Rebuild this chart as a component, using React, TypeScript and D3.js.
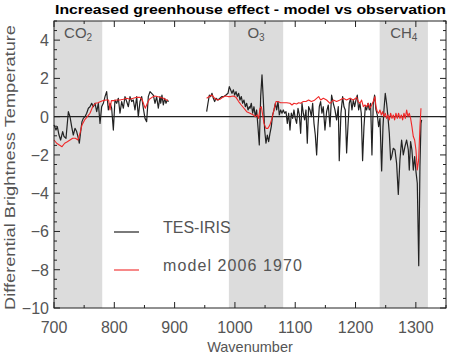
import React from "react";
import * as d3 from "d3";

// TES-IRIS observed difference (wavenumber, K), two segments
const obsW1 = [700,703.3,705.5,708.3,711,714.4,716.6,719.9,723.8,726.5,729.3,732,734.8,737.6,740.4,742,744.2,746.4,748.6,751.4,754.2,757,759.7,762.5,765.2,768,770.8,773.5,776.3,779,781.8,784.6,787.3,790.1,792.9,795.6,798.4,801.1,803.9,806.7,809.4,812.2,815,817.7,820.5,823.3,826,828.8,831.5,834.3,837.1,839.8,842.6,845.4,848.1,850.9,853.6,856.4,859.2,861.9,864.7,867.5,870.2,873,875.7,877,879,881.3,883.5,885.7,887.9,890];
const obsV1 = [-0.43,-0.7,-0.52,-0.96,-1.22,-0.78,-1.04,-1.13,0.26,0.0,-0.52,-0.96,-0.61,-0.78,-1.13,-1.39,-0.78,-0.26,-0.09,0.0,0.18,0.44,0.52,0.7,0.52,0.7,0.26,0.7,-0.35,0.52,0.7,1.05,1.31,0.35,0.7,0.44,-0.7,0.87,0.7,0.96,0.18,0.79,0.44,1.05,0.79,0.52,1.05,0.79,0.87,0.35,1.05,0.0,0.79,1.05,0.44,-0.09,-0.26,1.05,1.31,1.22,1.13,0.7,1.05,0.44,1.05,0.7,1.13,0.61,0.96,0.7,0.87,0.79];
const obsW2 = [953.1,955.3,957.6,959.8,962,964.2,966.4,968.6,971.9,975.2,978.6,981.9,985.2,988.5,990.7,992.9,995.1,997.4,999.6,1001.8,1004,1006.2,1008.4,1010.6,1012.8,1015,1017.3,1019.5,1021.7,1023.9,1025,1027.2,1029.4,1031.6,1033.8,1036,1038.2,1040.4,1042.7,1044.9,1047.1,1049.3,1051.5,1053.7,1055.9,1058.1,1060.3,1062.5,1064.8,1067,1069.2,1071.4,1073.6,1075.8,1078,1080.2,1082.4,1084.7,1086.9,1089.1,1091.3,1093.5,1095.7,1097.9,1100.1,1102.3,1104.6,1106.8,1109,1111.2,1113.4,1115.6,1117.8,1120,1122.2,1124.5,1126.7,1128.9,1131.1,1133.3,1135.5,1137.7,1139.9,1142.1,1144.3,1146.5,1149.3,1152,1154.8,1157.6,1160.3,1163.1,1165.9,1168.6,1171.4,1173,1175.8,1178.6,1180.8,1183,1185.2,1187.4,1189.6,1191.8,1194.1,1196.3,1198.5,1200.7,1202.9,1205.1,1207.3,1209.5,1211.7,1214,1216.2,1218.4,1220.6,1222.8,1225,1227.2,1229.4,1231.6,1233.9,1236.1,1238.3,1240.5,1243.3,1245.5,1247.1,1249.3,1251.5,1253.7,1256,1258.2,1259.9,1262.6,1265.4,1268.1,1270.9,1273.6,1276.4,1279.2,1281.9,1284.7,1287.5,1289.1,1291.3,1293.5,1295.8,1298,1300.2,1302.4,1304.8,1306.8,1308.5,1309.6];
const obsV2 = [0.26,0.7,1.13,1.05,1.22,0.96,0.79,0.96,0.87,0.96,1.05,1.05,1.13,1.22,1.57,1.4,1.22,1.4,1.13,1.31,1.05,1.22,0.87,1.05,0.7,0.87,0.52,0.7,0.35,0.52,0.44,0.7,0.18,0.52,0.0,0.35,-0.52,-1.48,1.05,2.18,0.87,-0.7,-1.39,-0.96,-1.31,-0.87,-0.52,0.09,0.35,0.7,0.35,0.79,0.09,0.35,0.18,0.35,0.18,0.26,-0.35,0.18,-0.7,0.18,-0.09,0.35,-0.09,-0.35,0.44,0.09,-0.87,0.7,0.18,-0.17,0.35,-1.39,0.52,0.35,0.0,0.7,-0.35,-0.96,-2.0,-0.52,0.52,0.79,0.18,0.52,-0.7,0.26,0.61,-0.52,1.13,0.7,0.35,-0.17,0.52,-2.3,0.18,1.05,0.52,0.35,-1.9,-0.52,0.7,0.96,0.35,0.87,0.52,0.87,1.13,0.35,0.7,0.18,-2.3,-0.52,0.52,0.35,0.7,0.35,0.7,-2.0,0.7,1.13,0.35,0.09,-0.52,-0.09,-2.84,-0.52,0.35,1.22,0.7,0.0,-0.87,-2.26,-2.09,-1.65,-1.74,-2.44,-4.06,-2.26,-1.22,-2.0,-1.57,-1.22,-1.74,-2.79,-1.3,-1.74,-2.79,-2.09,-2.87,-3.48,-7.79,-2.61,-0.35,-0.17];

// model 2006 - 1970, two segments
const modW1 = [700,704.4,708.8,713.3,717.7,722.1,726.5,731,735.4,739.8,743.1,746.4,750.8,755.3,759.7,764.1,768.5,773,777.4,781.8,786.2,790.6,792.9,795.1,799.5,803.9,809.4,815,820.5,826,831.5,837.1,842.6,845.9,849.2,851.4,854.8,858.1,862.5,866.9,871.3,875.7,881.3,886.8,889];
const modV1 = [-1.22,-1.39,-1.48,-1.57,-1.39,-1.31,-1.22,-1.13,-1.13,-1.22,-0.87,-0.43,-0.17,0.0,0.18,0.52,0.7,0.73,0.79,0.84,0.87,0.87,0.35,0.84,0.84,0.87,0.87,0.91,0.96,0.91,0.96,1.01,1.01,0.91,0.61,0.44,0.7,0.91,1.01,1.08,1.05,1.01,0.96,0.87,0.84];
const modW2 = [953.1,957.6,962,966.4,970.8,975.2,979.7,984.1,988.5,992.9,997.4,1001.8,1006.2,1010.6,1015,1019.5,1025,1030.5,1033.8,1037.1,1039.3,1041.5,1043.8,1046,1048.2,1051.5,1054.8,1058.1,1061.4,1064.8,1068.1,1071.4,1075.8,1080.2,1085.8,1091.3,1094.6,1097.9,1102.3,1105.7,1109,1113.4,1117.8,1122.2,1126.7,1131.1,1135.5,1138.8,1142.1,1146.6,1152,1157.6,1163.1,1168.6,1174.2,1179.7,1185.2,1190.7,1196.3,1201.8,1204.6,1207.3,1210.1,1212.9,1215.6,1218.4,1221.1,1223.9,1226.7,1229.4,1232.2,1233.9,1236.1,1238.3,1240.5,1242.7,1244.9,1247.1,1249.3,1251.5,1253.7,1256,1258.2,1260.4,1262.6,1264.8,1267,1269.2,1271.4,1273.6,1275.9,1278.1,1280.3,1282.5,1284.7,1286.9,1289.1,1291.3,1293.5,1295.8,1298,1300.2,1302.4,1304.6,1306.8,1308.5];
const modV2 = [0.96,1.05,1.13,0.96,0.87,0.91,1.01,1.08,1.05,1.05,1.08,1.01,0.79,0.61,0.44,0.26,0.18,0.09,0.0,0.09,-0.09,0.44,0.52,0.09,-0.35,-0.61,-0.61,-0.43,-0.09,0.35,0.79,0.79,0.73,0.73,0.73,0.7,0.61,0.7,0.66,0.73,0.7,0.79,0.79,0.87,0.79,0.84,0.96,1.05,0.87,0.96,0.87,0.7,0.87,0.79,0.87,0.96,0.87,0.96,0.87,1.01,0.79,0.7,0.87,0.52,0.61,0.52,0.7,0.44,0.61,0.79,1.05,0.52,0.26,0.18,0.35,0.09,0.26,0.0,0.18,-0.09,0.09,-0.17,0.18,-0.09,0.09,-0.17,0.18,-0.09,0.18,-0.09,0.09,-0.17,0.18,-0.09,0.35,0.0,0.18,-0.09,-0.52,-1.04,-1.22,-1.74,-2.79,-2.26,-0.52,0.44];

const bands = [
  { from: 700, to: 780, label: "CO", sub: "2" },
  { from: 990, to: 1080, label: "O", sub: "3" },
  { from: 1240, to: 1320, label: "CH", sub: "4" },
];
const xTicks = [700, 800, 900, 1000, 1100, 1200, 1300];
const yTicks = [4, 2, 0, -2, -4, -6, -8, -10];

const W = 450, H = 355;
const L = 54, R = 446, T = 21, B = 308;

export default function App() {
  const x = d3.scaleLinear().domain([700, 1350]).range([L, R]);
  const y = d3.scaleLinear().domain([-10, 5]).range([B, T]);
  const line = d3.line<[number, number]>().x(d => x(d[0])).y(d => y(d[1]));
  const zip = (a: number[], b: number[]) => a.map((w, i) => [w, b[i]] as [number, number]);
  const font = "'Liberation Sans', Arial, sans-serif";
  const grey = "#555";
  const blk = "#222";
  const red = "#f02828";

  const xMinor = d3.range(700, 1351, 50);
  const yMinor = d3.range(-10, 5.01, 0.5);

  return (
    <svg width={W} height={H} style={{ position: "absolute", left: 0, top: 0 }} fontFamily={font}>
      <rect x={0} y={0} width={W} height={H} fill="#fff" />
      <text x={L + 1} y={14} fontSize={13} fontWeight="bold" fill="#000" textLength={391} lengthAdjust="spacingAndGlyphs">Increased greenhouse effect - model vs observation</text>
      {bands.map(b => (
        <rect key={b.label} x={x(b.from)} y={T} width={x(b.to) - x(b.from)} height={B - T} fill="#dcdcdc" />
      ))}
      {bands.map(b => (
        <text key={"t" + b.label} x={(x(b.from) + x(b.to)) / 2} y={38} fontSize={15} fill={grey} textAnchor="middle">
          {b.label}<tspan fontSize={10} dy={3}>{b.sub}</tspan>
        </text>
      ))}
      <line x1={L} x2={R} y1={y(0)} y2={y(0)} stroke="#222" strokeWidth={1.3} />
      <path d={line(zip(obsW1, obsV1)) || ""} fill="none" stroke={blk} strokeWidth={1.2} strokeLinejoin="round" />
      <path d={line(zip(obsW2, obsV2)) || ""} fill="none" stroke={blk} strokeWidth={1.2} strokeLinejoin="round" />
      <path d={line(zip(modW1, modV1)) || ""} fill="none" stroke={red} strokeWidth={1.1} strokeLinejoin="round" />
      <path d={line(zip(modW2, modV2)) || ""} fill="none" stroke={red} strokeWidth={1.1} strokeLinejoin="round" />
      <rect x={L} y={T} width={R - L} height={B - T} fill="none" stroke="#222" strokeWidth={1} />
      {xMinor.map(v => {
        const major = v % 100 === 0;
        const len = major ? 6 : 3;
        return (
          <g key={"xt" + v}>
            <line x1={x(v)} x2={x(v)} y1={B} y2={B - len} stroke="#222" />
            <line x1={x(v)} x2={x(v)} y1={T} y2={T + len} stroke="#222" />
          </g>
        );
      })}
      {yMinor.map(v => {
        const major = Math.abs(v % 2) < 1e-6;
        const len = major ? 6 : 3;
        return (
          <g key={"yt" + v}>
            <line x1={L} x2={L + len} y1={y(v)} y2={y(v)} stroke="#222" />
            <line x1={R} x2={R - len} y1={y(v)} y2={y(v)} stroke="#222" />
          </g>
        );
      })}
      {xTicks.map(v => (
        <text key={"xl" + v} x={x(v)} y={333} fontSize={16} fill={grey} textAnchor="middle">{v}</text>
      ))}
      {yTicks.map(v => (
        <text key={"yl" + v} x={49} y={y(v) + 6} fontSize={16} fill={grey} textAnchor="end">{v < 0 ? "\u2212" + Math.abs(v) : String(v)}</text>
      ))}
      <text x={(L + R) / 2} y={352} fontSize={14.5} fill={grey} textAnchor="middle">Wavenumber</text>
      <text transform={`translate(15,${(T + B) / 2 + 3}) rotate(-90)`} fontSize={15} fill={grey} textAnchor="middle" textLength={285} lengthAdjust="spacingAndGlyphs">Differential Brightness Temperature</text>
      <line x1={114} x2={139} y1={232} y2={232} stroke={blk} strokeWidth={1.2} />
      <text x={163} y={233} fontSize={16} fill={grey}>TES-IRIS</text>
      <line x1={114} x2={139} y1={270} y2={270} stroke={red} strokeWidth={1.1} />
      <text x={163} y={271} fontSize={16} fill={grey} textLength={139} lengthAdjust="spacing">model 2006 1970</text>
    </svg>
  );
}
